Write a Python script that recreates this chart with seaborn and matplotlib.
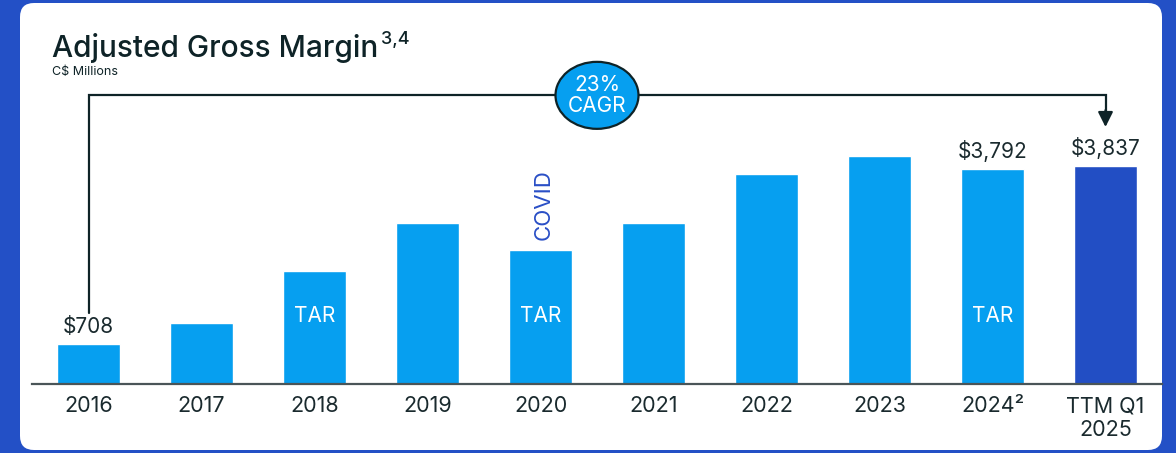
import matplotlib
matplotlib.use("Agg")
import matplotlib.pyplot as plt
import seaborn as sns
from matplotlib.patches import FancyBboxPatch, Ellipse
from matplotlib.transforms import IdentityTransform

# data (C$ millions)
years = ["2016", "2017", "2018", "2019", "2020", "2021", "2022", "2023", "2024\u00b2", "TTM Q1\n2025"]
margin = [708, 1075, 1995, 2825, 2365, 2840, 3690, 4005, 3792, 3837]
shown_values = {0: "$708", 8: "$3,792", 9: "$3,837"}
tar_bars = [2, 4, 8]
cagr_text = "23%\nCAGR"

light_blue = "#069FF0"
dark_blue = "#224EC4"
ink = "#0E2327"
bar_colors = [light_blue] * 9 + [dark_blue]

sns.set_style("white")
plt.rcParams["font.family"] = ["Inter", "DejaVu Sans"]

fig = plt.figure(figsize=(11.76, 4.53), dpi=100, facecolor="#2350C6")

# white rounded panel (pixel coords)
panel = FancyBboxPatch((20, 3), 1142, 447, boxstyle="round,pad=0,rounding_size=14",
                       transform=IdentityTransform(), facecolor="white", edgecolor="none",
                       zorder=-5)
fig.patches.append(panel)

ax = fig.add_axes([32 / 1176, 69 / 453, 1130 / 1176, 324 / 453])
ax.set_facecolor("none")

sns.barplot(x=years, y=margin, hue=years, palette=bar_colors, legend=False,
            width=0.56, saturation=1, ax=ax)

ax.set_xlim(-0.5, 9.5)
ax.set_ylim(0, 5702)
sns.despine(ax=ax, left=True)
ax.spines["bottom"].set_color("#4A5558")
ax.spines["bottom"].set_linewidth(1.6)
ax.set_yticks([])
ax.set_xlabel("")
ax.set_ylabel("")
ax.tick_params(axis="x", length=0, pad=9, labelsize=15.5, labelcolor="#1A2A2E")

# value labels
for i, txt in shown_values.items():
    ax.annotate(txt, (i, margin[i]), xytext=(0, 5), textcoords="offset points",
                ha="center", va="bottom", fontsize=15, color="#1A2A2E")

# TAR labels inside bars
for i in tar_bars:
    ax.text(i, 1197, "TAR", ha="center", va="center", fontsize=15, color="white")

ax.text(4.03, 3150, "COVID", rotation=90, ha="center", va="center",
        fontsize=16, color="#2A4FC6")

# CAGR bracket
line_y = 5080
ax.plot([0, 0, 9, 9], [1250, line_y, line_y, 4800], color=ink, lw=1.6,
        solid_joinstyle="miter", clip_on=False)
ax.annotate("", xy=(9, 4523), xytext=(9, 4820),
            arrowprops=dict(arrowstyle="-|>,head_length=0.9,head_width=0.45",
                            color=ink, lw=1.6, shrinkA=0, shrinkB=0),
            annotation_clip=False)
ell = Ellipse((4.5, line_y), width=83 / 113, height=67 * 17.6, facecolor=light_blue,
              edgecolor=ink, lw=1.6, zorder=5, clip_on=False)
ax.add_patch(ell)
ax.text(4.5, line_y, cagr_text, ha="center", va="center", fontsize=15,
        color="white", zorder=6, linespacing=1.05)

# titles
fig.text(52 / 1176, 1 - 57 / 453, "Adjusted Gross Margin", fontsize=21.5,
         fontweight="medium", color="#0E2327", va="baseline")
fig.text(381 / 1176, 1 - 44 / 453, "3,4", fontsize=13, fontweight="medium",
         color="#0E2327", va="baseline")
fig.text(52 / 1176, 1 - 75 / 453, "C$ Millions", fontsize=9, color="#0E2327",
         va="baseline")

fig.savefig("out.png", dpi=100, facecolor=fig.get_facecolor())
